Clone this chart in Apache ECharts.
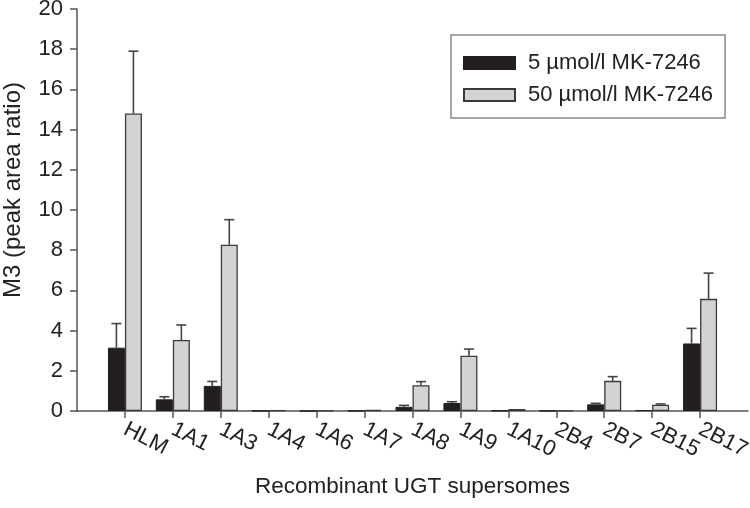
<!DOCTYPE html>
<html>
<head>
<meta charset="utf-8">
<script src="https://cdn.jsdelivr.net/npm/echarts@6/dist/echarts.min.js"></script>
<style>html,body{margin:0;padding:0;background:#fff;}#c{width:750px;height:508px;}</style>
</head>
<body>
<div id="c"></div>
<script>
const categories = ['HLM','1A1','1A3','1A4','1A6','1A7','1A8','1A9','1A10','2B4','2B7','2B15','2B17'];
const low = [3.15, 0.58, 1.25, 0.01, 0.0, 0.01, 0.21, 0.40, 0.02, 0.01, 0.33, 0.04, 3.36];
const lowErr = [1.2, 0.13, 0.22, 0, 0, 0, 0.07, 0.06, 0, 0, 0.05, 0, 0.75];
const high = [14.8, 3.53, 8.27, 0.03, 0.01, 0.05, 1.28, 2.75, 0.10, 0.02, 1.50, 0.31, 5.58];
const highErr = [3.1, 0.75, 1.25, 0, 0, 0, 0.18, 0.33, 0, 0, 0.21, 0.04, 1.28];
const yTicks = [0, 2, 4, 6, 8, 10, 12, 14, 16, 18, 20];
const seriesNames = ['5 µmol/l MK-7246', '50 µmol/l MK-7246'];

const FONT = "'Liberation Sans', Arial, Helvetica, sans-serif";
const padCats = [''].concat(categories, ['']);
const pad = arr => [null].concat(arr, [null]);
const BW = 17;

function errData(vals, errs) {
  return vals.map((v, i) => [i + 1, v, errs[i]]);
}
function errRender(offset) {
  return function (params, api) {
    const e = api.value(2);
    if (!e) return null;
    const p0 = api.coord([api.value(0), api.value(1)]);
    const p1 = api.coord([api.value(0), api.value(1) + e]);
    const x = p0[0] + offset;
    const st = { stroke: '#444', lineWidth: 1.6 };
    return {
      type: 'group',
      children: [
        { type: 'line', shape: { x1: x, y1: p0[1], x2: x, y2: p1[1] }, style: st },
        { type: 'line', shape: { x1: x - 5, y1: p1[1], x2: x + 5, y2: p1[1] }, style: st }
      ]
    };
  };
}

const chart = echarts.init(document.getElementById('c'));
chart.setOption({
  animation: false,
  textStyle: { fontFamily: FONT },
  grid: { left: 77, right: 2, top: 9, bottom: 97, containLabel: false, outerBoundsMode: 'none' },
  legend: {
    orient: 'vertical',
    left: 451, top: 35,
    itemWidth: 51, itemHeight: 12,
    itemGap: 10,
    icon: 'rect',
    padding: [17, 12, 12, 12],
    borderColor: '#888', borderWidth: 1.5,
    textStyle: { fontSize: 22, color: '#222', fontFamily: FONT, padding: [0, 0, 0, 8] },
    data: seriesNames
  },
  xAxis: {
    type: 'category',
    data: padCats,
    boundaryGap: false,
    name: 'Recombinant UGT supersomes',
    nameLocation: 'middle',
    nameGap: 64,
    nameTextStyle: { fontSize: 22.5, color: '#222', fontFamily: FONT },
    axisLine: { lineStyle: { color: '#555', width: 1.5 } },
    axisTick: { length: 7, lineStyle: { color: '#555', width: 1.5 }, interval: (i, v) => v !== '' },
    axisLabel: { interval: 0, rotate: -27, fontSize: 22, color: '#222', margin: 17, fontFamily: FONT },
    splitLine: { show: false }
  },
  yAxis: {
    type: 'value',
    min: 0, max: 20, interval: 2,
    name: 'M3 (peak area ratio)',
    nameLocation: 'middle',
    nameGap: 52,
    nameTextStyle: { fontSize: 24, color: '#222', fontFamily: FONT, padding: [0, 0, 0, 40] },
    axisLine: { show: true, lineStyle: { color: '#555', width: 1.5 } },
    axisTick: { show: true, length: 7, lineStyle: { color: '#555', width: 1.5 } },
    axisLabel: { fontSize: 22, color: '#222', margin: 14, fontFamily: FONT,
      formatter: v => yTicks.indexOf(v) >= 0 ? String(v) : '' },
    splitLine: { show: false }
  },
  series: [
    {
      name: seriesNames[0], type: 'bar', data: pad(low), barWidth: BW, barGap: '0%',
      itemStyle: { color: '#231f20', borderColor: '#231f20', borderWidth: 1 }
    },
    {
      name: seriesNames[1], type: 'bar', data: pad(high), barWidth: BW, barGap: '0%',
      itemStyle: { color: '#d1d3d4', borderColor: '#3a3a3a', borderWidth: 1.3 }
    },
    { type: 'custom', renderItem: errRender(-BW / 2), data: errData(low, lowErr), z: 3 },
    { type: 'custom', renderItem: errRender(BW / 2), data: errData(high, highErr), z: 3 }
  ]
});
</script>
</body>
</html>
